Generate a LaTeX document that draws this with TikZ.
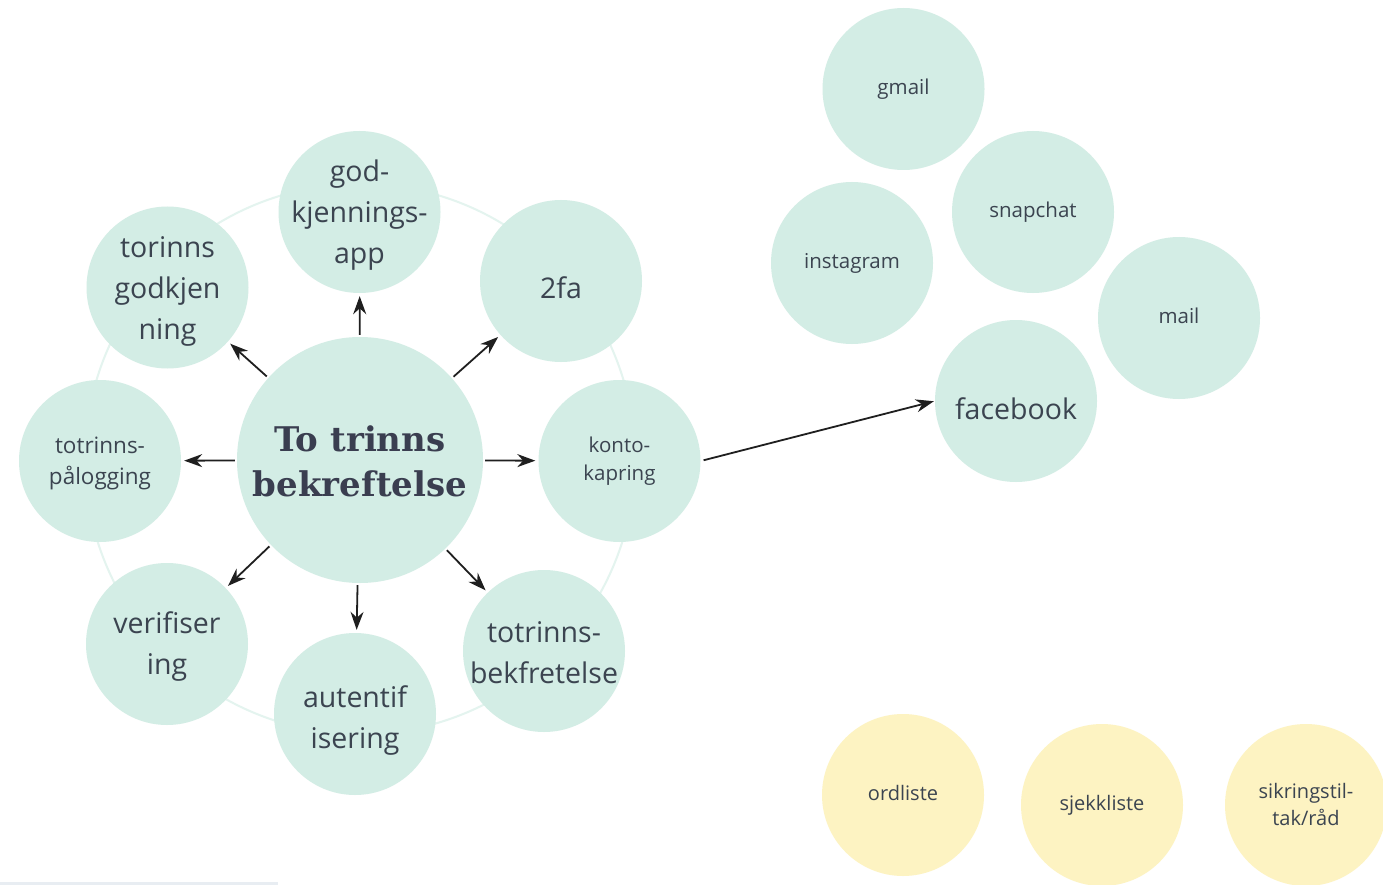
\documentclass[tikz,border=0pt]{standalone}
\usepackage{fontspec}
\setmainfont{Open Sans}
\newfontfamily\titlefont{DejaVu Serif}
\usetikzlibrary{arrows.meta}
\definecolor{mint}{RGB}{211,237,229}
\definecolor{ringc}{RGB}{228,244,239}
\definecolor{sun}{RGB}{253,243,194}
\definecolor{txt}{RGB}{59,68,80}
\definecolor{ttl}{RGB}{58,62,80}
\definecolor{barc}{RGB}{232,237,242}
\begin{document}
\begin{tikzpicture}[x=1pt,y=-1pt,
  bubble/.style={circle,fill=mint,draw=none,minimum size=162pt,inner sep=0pt},
  ybubble/.style={bubble,fill=sun},
  words/.style={align=center,text=txt,inner sep=0pt},
  bigtxt/.style={words,font=\fontsize{28.5}{41}\selectfont},
  midtxt/.style={words,font=\fontsize{22.5}{31}\selectfont},
  smalltxt/.style={words,font=\fontsize{20.5}{28}\selectfont},
  link/.style={-{Stealth[length=18pt,width=13pt]},line width=1.8pt,black!88,shorten <=2pt,shorten >=3pt}]
\useasboundingbox (0,0) rectangle (1383,885);
\fill[white] (0,0) rectangle (1383,885);
\fill[barc] (0,882) rectangle (278,885);
% faint ring
\draw[ringc,line width=2pt] (360,459) circle[radius=275];
% centre
\node[bubble,minimum size=246pt,label={[words,text=ttl,font=\titlefont\bfseries\fontsize{34}{45}\selectfont,yshift=-1pt]center:{To trinns\\bekreftelse}}] (c) at (360,460) {};
% satellites
\node[bubble,label={[bigtxt,yshift=-4pt]center:{torinns\\godkjen\\ning}}] (tg) at (167.5,287.5) {};
\node[bubble,label={[bigtxt,yshift=-3pt]center:{god-\\kjennings-\\app}}] (ga) at (359.5,212) {};
\node[bubble,label={[bigtxt,yshift=-7pt]center:{2fa}}] (tf) at (561,281) {};
\node[bubble,label={[smalltxt]center:{konto-\\kapring}}] (kk) at (619.5,461) {};
\node[bubble,label={[bigtxt,yshift=-1.5pt]center:{totrinns-\\bekfretelse}}] (tb) at (544,651) {};
\node[bubble,label={[bigtxt,yshift=-7pt]center:{autentif\\isering}}] (au) at (355,714) {};
\node[bubble,label={[bigtxt,yshift=-3pt]center:{verifiser\\ing}}] (vf) at (167,644) {};
\node[bubble,label={[midtxt,yshift=-2.5pt]center:{totrinns-\\pålogging}}] (tp) at (100,461) {};
% right cluster
\node[bubble,label={[smalltxt]center:{gmail}}] (gm) at (903.5,89) {};
\node[bubble,label={[smalltxt]center:{snapchat}}] (sc) at (1033,212) {};
\node[bubble,label={[smalltxt]center:{instagram}}] (ig) at (852,263) {};
\node[bubble,label={[smalltxt,yshift=2pt]center:{mail}}] (ml) at (1179,318) {};
\node[bubble,label={[words,font=\fontsize{28.5}{34}\selectfont,yshift=-8pt]center:{facebook}}] (fb) at (1016,401) {};
% yellow
\node[ybubble,label={[smalltxt,font=\fontsize{20}{28}\selectfont,yshift=2pt]center:{ordliste}}] (ol) at (903,795) {};
\node[ybubble,label={[smalltxt,font=\fontsize{20}{28}\selectfont]center:{sjekkliste}}] (sj) at (1102,805) {};
\node[ybubble,label={[smalltxt,font=\fontsize{20}{27}\selectfont,yshift=1pt]center:{sikringstil-\\tak/råd}}] (st) at (1306,805) {};
% arrows
\draw[link] (c) -- (tg);
\draw[link] (c) -- (ga);
\draw[link] (c) -- (tf);
\draw[link] (c) -- (kk);
\draw[link] (c) -- (tb);
\draw[link] (c) -- (au);
\draw[link] (c) -- (vf);
\draw[link] (c) -- (tp);
\draw[link,shorten <=3pt,shorten >=1pt] (kk.east) -- (fb.west);
\end{tikzpicture}
\end{document}
